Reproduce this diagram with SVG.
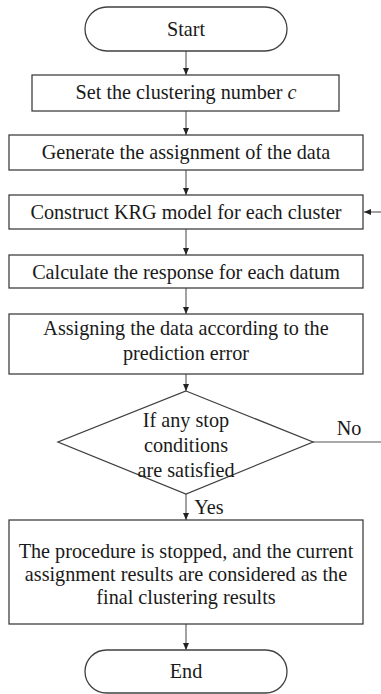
<svg xmlns="http://www.w3.org/2000/svg" width="381" height="694" viewBox="0 0 381 694">
<style>
.n{fill:#fff;stroke:#404040;stroke-width:1.3}
.t{font-family:"Liberation Serif","Times New Roman",serif;font-size:20.2px;fill:#1a1a1a;text-anchor:middle}
.c{stroke:#555;stroke-width:1.1;fill:none}
</style>
<defs>
<marker id="ah" markerWidth="8" markerHeight="8" refX="7" refY="4" orient="auto" markerUnits="userSpaceOnUse">
<path d="M0,1 L7,4 L0,7 Z" fill="#222"/>
</marker>
</defs>
<rect width="381" height="694" fill="#fff"/>
<g id="connectors">
<line class="c" x1="186" y1="51" x2="186" y2="75" marker-end="url(#ah)"/>
<line class="c" x1="186" y1="111" x2="186" y2="135" marker-end="url(#ah)"/>
<line class="c" x1="186" y1="170" x2="186" y2="195" marker-end="url(#ah)"/>
<line class="c" x1="186" y1="229" x2="186" y2="255" marker-end="url(#ah)"/>
<line class="c" x1="186" y1="288" x2="186" y2="314" marker-end="url(#ah)"/>
<line class="c" x1="186" y1="374" x2="186" y2="391" marker-end="url(#ah)"/>
<line class="c" x1="186" y1="494" x2="186" y2="520" marker-end="url(#ah)"/>
<line class="c" x1="186" y1="624" x2="186" y2="650" marker-end="url(#ah)"/>
<line class="c" x1="313" y1="442" x2="381" y2="442"/>
<line class="c" x1="381" y1="212" x2="364" y2="212" marker-end="url(#ah)"/>
<text class="t" x="349" y="435">No</text>
<text class="t" x="209" y="514">Yes</text>
</g>
<g id="start">
<rect class="n" x="85" y="7" width="202" height="44" rx="22" ry="22"/>
<text class="t" x="186" y="36">Start</text>
</g>
<g id="set">
<rect class="n" x="32" y="75" width="307" height="36"/>
<text class="t" x="186" y="99">Set the clustering number <tspan font-style="italic">c</tspan></text>
</g>
<g id="generate">
<rect class="n" x="9" y="135" width="354" height="35"/>
<text class="t" x="186" y="159">Generate the assignment of the data</text>
</g>
<g id="construct">
<rect class="n" x="9" y="195" width="354" height="34"/>
<text class="t" x="186" y="219">Construct KRG model for each cluster</text>
</g>
<g id="calculate">
<rect class="n" x="9" y="255" width="354" height="33"/>
<text class="t" x="186" y="279">Calculate the response for each datum</text>
</g>
<g id="assigning">
<rect class="n" x="9" y="314" width="354" height="60"/>
<text class="t" x="186" y="335">Assigning the data according to the</text>
<text class="t" x="186" y="360">prediction error</text>
</g>
<g id="decision">
<polygon class="n" points="186,391 313,442 186,494 58,442"/>
<text class="t" x="186" y="427">If any stop</text>
<text class="t" x="186" y="452">conditions</text>
<text class="t" x="186" y="477">are satisfied</text>
</g>
<g id="final">
<rect class="n" x="9" y="520" width="354" height="104"/>
<text class="t" x="186" y="558">The procedure is stopped, and the current</text>
<text class="t" x="186" y="581">assignment results are considered as the</text>
<text class="t" x="186" y="604">final clustering results</text>
</g>
<g id="end">
<rect class="n" x="85" y="650" width="202" height="43" rx="21.5" ry="21.5"/>
<text class="t" x="186" y="678">End</text>
</g>
</svg>
